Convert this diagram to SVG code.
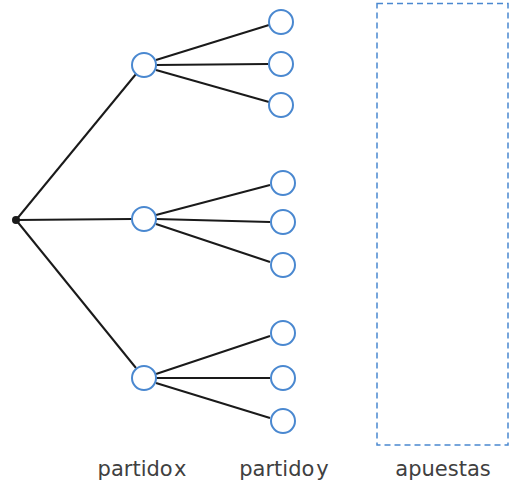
<svg xmlns="http://www.w3.org/2000/svg" width="509" height="489" viewBox="0 0 509 489">
<style>
.n{fill:#fff;stroke:#4a88d0;stroke-width:2}
.e{stroke:#1a1a1a;stroke-width:2;fill:none}
.t{font-family:"DejaVu Sans",sans-serif;font-size:21px;fill:#404040}
</style>
<rect width="509" height="489" fill="#fff"/>
<g id="connectors">
<line class="e" x1="16" y1="220" x2="136" y2="74"/>
<line class="e" x1="16" y1="220" x2="132" y2="219"/>
<line class="e" x1="16" y1="220" x2="136" y2="368"/>
<line class="e" x1="156" y1="60" x2="269" y2="25"/>
<line class="e" x1="156" y1="65" x2="268" y2="64"/>
<line class="e" x1="156" y1="70" x2="269" y2="102"/>
<line class="e" x1="156" y1="215" x2="270" y2="185"/>
<line class="e" x1="156" y1="219" x2="270" y2="222"/>
<line class="e" x1="156" y1="224" x2="270" y2="262"/>
<line class="e" x1="156" y1="374" x2="270" y2="336"/>
<line class="e" x1="156" y1="378" x2="270" y2="378"/>
<line class="e" x1="156" y1="383" x2="270" y2="418"/>
</g>
<g id="root"><circle cx="16" cy="220" r="4" fill="#1a1a1a"/></g>
<g id="x1"><circle class="n" cx="144" cy="65" r="12"/></g>
<g id="x2"><circle class="n" cx="144" cy="219" r="12"/></g>
<g id="x3"><circle class="n" cx="144" cy="378" r="12"/></g>
<g id="y1"><circle class="n" cx="281" cy="22" r="12"/></g>
<g id="y2"><circle class="n" cx="281" cy="64" r="12"/></g>
<g id="y3"><circle class="n" cx="281" cy="105" r="12"/></g>
<g id="y4"><circle class="n" cx="283" cy="183" r="12"/></g>
<g id="y5"><circle class="n" cx="283" cy="222" r="12"/></g>
<g id="y6"><circle class="n" cx="283" cy="265" r="12"/></g>
<g id="y7"><circle class="n" cx="283" cy="333" r="12"/></g>
<g id="y8"><circle class="n" cx="283" cy="378" r="12"/></g>
<g id="y9"><circle class="n" cx="283" cy="421" r="12"/></g>
<g id="apuestas-box"><rect x="377" y="3.5" width="131" height="441.5" fill="none" stroke="#4a88d0" stroke-width="1.5" stroke-dasharray="6,4"/></g>
<g id="labels">
<text class="t" x="142" y="476" text-anchor="middle">partido<tspan dx="2">x</tspan></text>
<text class="t" x="284" y="476" text-anchor="middle">partido<tspan dx="2">y</tspan></text>
<text class="t" x="443" y="476" text-anchor="middle">apuestas</text>
</g>
</svg>
